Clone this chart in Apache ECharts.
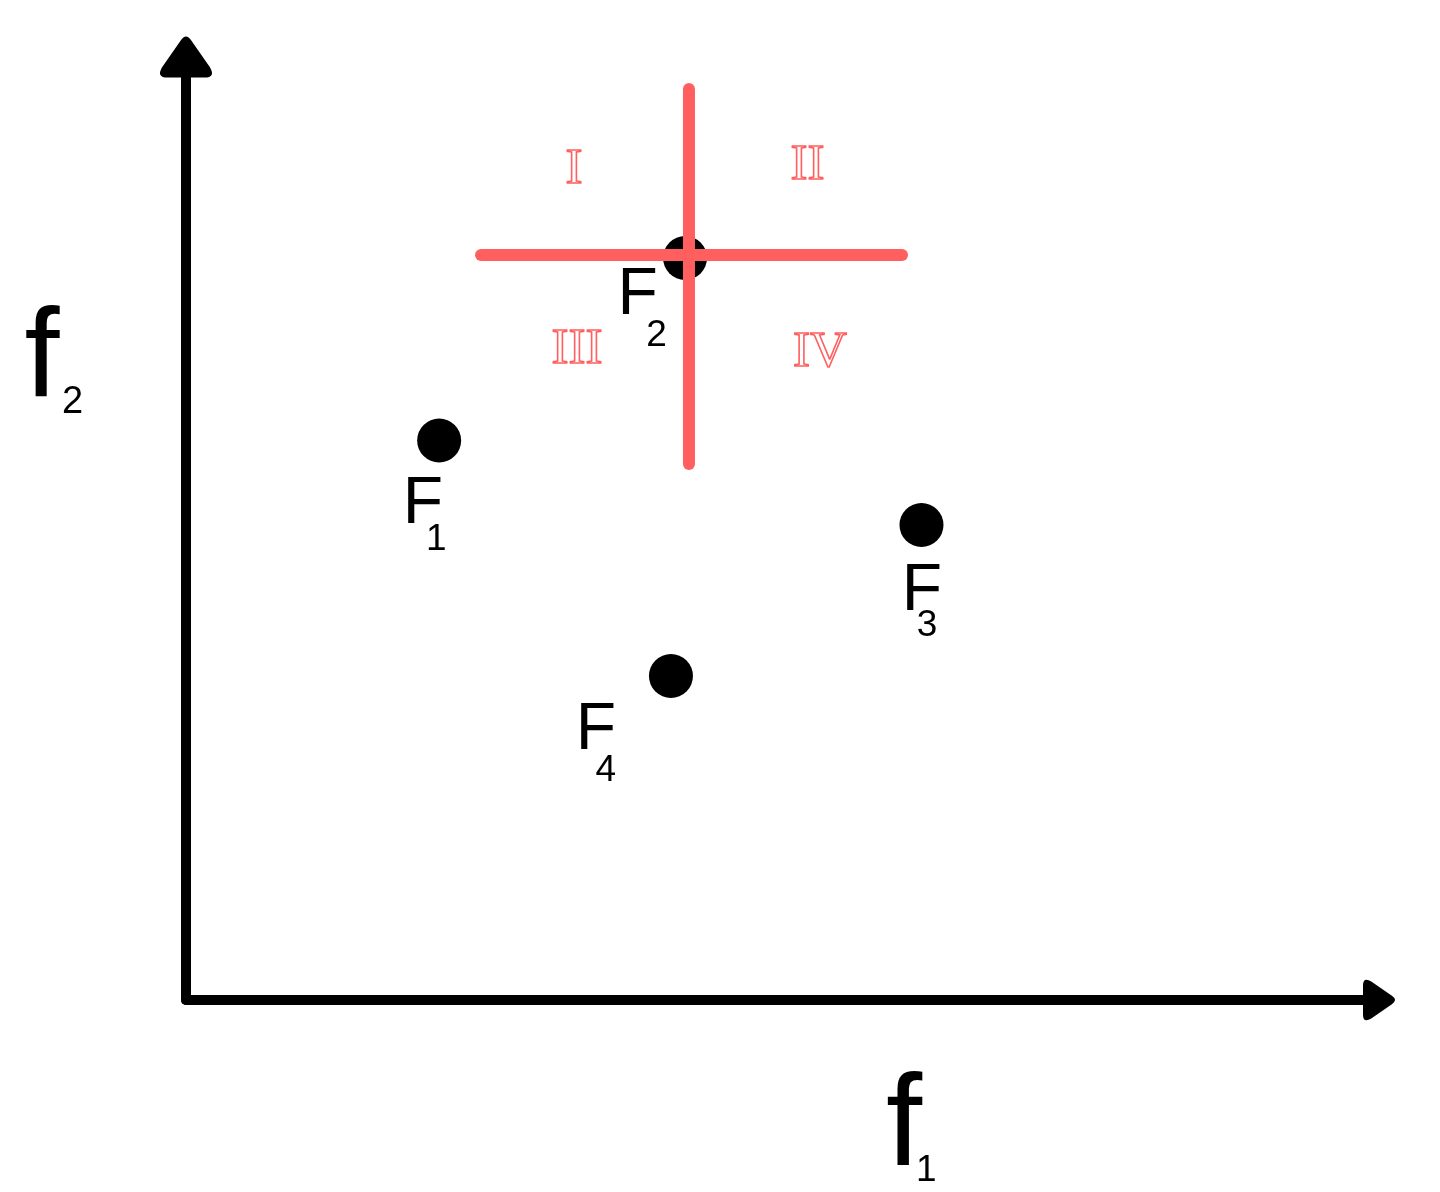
<!DOCTYPE html>
<html>
<head>
<meta charset="utf-8">
<script src="https://cdn.jsdelivr.net/npm/echarts@6/dist/echarts.min.js"></script>
<style>
  html, body { margin: 0; padding: 0; background: #ffffff; }
  #chart { width: 1440px; height: 1192px; }
</style>
</head>
<body>
<div id="chart"></div>
<script>
// ---- data ----
var pointNames = ['F', 'F', 'F', 'F'];
var pointSubs = ['1', '2', '3', '4'];
var pointX = [21.22, 41.83, 61.65, 40.65];
var pointY = [59.33, 78.69, 50.37, 34.36];

var crossHX = [24.73, 60.02];
var crossHY = [79.00, 79.00];
var crossVX = [42.16, 42.16];
var crossVY = [96.60, 56.84];

var quadrantTexts = ['I', 'II', 'III', 'IV'];
var quadrantX = [32.52, 52.10, 32.77, 53.14];
var quadrantY = [88.02, 88.44, 68.93, 68.66];

var axisMin = 0, axisMax = 100;
var xTitle = ['f', '1'];
var yTitle = ['f', '2'];

// ---- layout / style (not data) ----
var RED = '#ff5f5f';
var SANS = "'Liberation Sans', Arial, Helvetica, sans-serif";
var SERIF = "'Liberation Serif', 'Times New Roman', serif";
var labelLayout = [
  { offset: [-36.4, 30.9], fw: 23.2, pad: 49.8 },
  { offset: [-67.5, 5.1], fw: 28.7, pad: 53.8 },
  { offset: [-19.7, 33.4], fw: 15.0, pad: 48.8 },
  { offset: [-95.2, 21.4], fw: 19.8, pad: 54.8 }
];
var arrowPath = 'path://M40 10 Q50 -5 60 10 L95 60 Q107 80 85 80 L15 80 Q-7 80 5 60 Z';

var pointData = pointX.map(function (x, i) {
  var L = labelLayout[i];
  return {
    value: [x, pointY[i]],
    label: {
      offset: L.offset,
      rich: { a: { width: L.fw }, b: { padding: [L.pad, 0, 0, 0] } }
    }
  };
});

var quadData = quadrantX.map(function (x, i) { return [x, quadrantY[i]]; });

var chart = echarts.init(document.getElementById('chart'), null, { renderer: 'canvas' });

function axisCommon(arrowSize) {
  return {
    type: 'value', min: axisMin, max: axisMax,
    axisLine: {
      show: true, onZero: false,
      lineStyle: { color: '#000', width: 10, cap: 'round' },
      symbol: ['none', arrowPath],
      symbolSize: arrowSize
    },
    axisTick: { show: false },
    axisLabel: { show: false },
    splitLine: { show: false }
  };
}

chart.setOption({
  backgroundColor: '#ffffff',
  animation: false,
  grid: { left: 186, top: 57, width: 1193, height: 943 },
  xAxis: axisCommon([57, 32]),
  yAxis: axisCommon([52, 42]),
  graphic: [
    {
      type: 'text', x: 24.5, y: 299,
      style: {
        text: '{a|' + yTitle[0] + '}{b|' + yTitle[1] + '}',
        align: 'left', verticalAlign: 'top',
        rich: {
          a: { fontSize: 126, lineHeight: 126, width: 37.5, fontFamily: SANS, fill: '#000', verticalAlign: 'top' },
          b: { fontSize: 38, lineHeight: 38, padding: [84.4, 0, 0, 0], fontFamily: SANS, fill: '#000', verticalAlign: 'top' }
        }
      }
    },
    {
      type: 'text', x: 886, y: 1064,
      style: {
        text: '{a|' + xTitle[0] + '}{b|' + xTitle[1] + '}',
        align: 'left', verticalAlign: 'top',
        rich: {
          a: { fontSize: 130, lineHeight: 130, width: 30, fontFamily: SANS, fill: '#000', verticalAlign: 'top' },
          b: { fontSize: 37, lineHeight: 37, padding: [88, 0, 0, 0], fontFamily: SANS, fill: '#000', verticalAlign: 'top' }
        }
      }
    }
  ],
  series: [
    {
      type: 'scatter',
      name: 'points',
      symbol: 'circle',
      symbolSize: 44,
      itemStyle: { color: '#000', opacity: 1 },
      data: pointData,
      label: {
        show: true,
        position: 'inside',
        align: 'left',
        verticalAlign: 'top',
        color: '#000',
        formatter: function (p) {
          return '{a|' + pointNames[p.dataIndex] + '}{b|' + pointSubs[p.dataIndex] + '}';
        },
        rich: {
          a: { fontSize: 66, lineHeight: 66, fontFamily: SANS, color: '#000', verticalAlign: 'top', align: 'left' },
          b: { fontSize: 37, lineHeight: 37, fontFamily: SANS, color: '#000', verticalAlign: 'top', align: 'left' }
        }
      },
      emphasis: { disabled: true },
      z: 2
    },
    {
      type: 'scatter',
      name: 'quadrants',
      symbolSize: 0,
      data: quadData,
      itemStyle: { opacity: 1 },
      label: {
        show: true,
        position: 'inside',
        align: 'center',
        verticalAlign: 'middle',
        formatter: function (p) { return quadrantTexts[p.dataIndex]; },
        fontFamily: SERIF,
        fontSize: 51,
        color: 'rgba(255,255,255,0)',
        textBorderColor: RED,
        textBorderWidth: 1.6
      },
      emphasis: { disabled: true },
      z: 2
    },
    {
      type: 'line',
      name: 'crossH',
      symbol: 'none',
      data: crossHX.map(function (x, i) { return [x, crossHY[i]]; }),
      lineStyle: { color: RED, width: 12, cap: 'round' },
      emphasis: { disabled: true },
      z: 3
    },
    {
      type: 'line',
      name: 'crossV',
      symbol: 'none',
      data: crossVX.map(function (x, i) { return [x, crossVY[i]]; }),
      lineStyle: { color: RED, width: 12, cap: 'round' },
      emphasis: { disabled: true },
      z: 3
    }
  ]
});
</script>
</body>
</html>
